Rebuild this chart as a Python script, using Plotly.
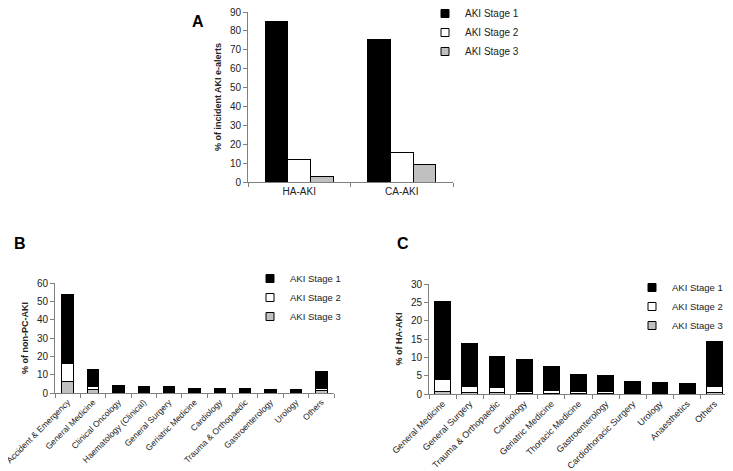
import plotly.graph_objects as go

stages = ["AKI Stage 1", "AKI Stage 2", "AKI Stage 3"]
colors = ["#000000", "#ffffff", "#c0c0c0"]

# Panel A
a_cats = ["HA-AKI", "CA-AKI"]
a_s1 = [85.0, 75.3]
a_s2 = [11.8, 15.4]
a_s3 = [3.0, 9.3]

# Panel B
b_cats = ["Accident & Emergency", "General Medicine", "Clinical Oncology", "Haematology (Clinical)",
          "General Surgery", "Geriatric Medicine", "Cardiology", "Trauma & Orthopaedic",
          "Gastroenterology", "Urology", "Others"]
b_s3 = [6.3, 1.8, 0.3, 0.2, 0.3, 0.2, 0.1, 0.1, 0.1, 0.1, 1.3]
b_s2 = [9.7, 1.7, 0.4, 0.3, 0.4, 0.3, 0.3, 0.2, 0.2, 0.2, 0.9]
b_s1 = [37.5, 9.5, 3.3, 3.3, 2.9, 2.2, 2.2, 1.9, 1.5, 1.4, 9.3]

# Panel C
c_cats = ["General Medicine", "General Surgery", "Trauma & Orthopaedic", "Cardiology",
          "Geriatric Medicine", "Thoracic Medicine", "Gastroenterology", "Cardiothoracic Surgery",
          "Urology", "Anaesthetics", "Others"]
c_s3 = [0.8, 0.3, 0.3, 0.2, 0.2, 0.2, 0.2, 0.1, 0.1, 0.1, 0.5]
c_s2 = [3.1, 1.7, 1.4, 0.6, 0.7, 0.4, 0.4, 0.2, 0.2, 0.3, 1.5]
c_s1 = [21.3, 11.7, 8.5, 8.7, 6.7, 4.7, 4.4, 3.2, 2.9, 2.5, 12.4]

W, H = 725, 463
OFF = 8  # page body margin
def fx(px): return (px - OFF) / W
def fy(py): return 1 - (py - OFF) / H

FONT = "Liberation Sans, Arial, sans-serif"
fig = go.Figure()
LINE = dict(color="#000", width=1)

# A: grouped (distinct offset groups)
for name, vals, col in zip(stages, [a_s1, a_s2, a_s3], colors):
    fig.add_trace(go.Bar(x=a_cats, y=vals, name=name, marker=dict(color=col, line=LINE),
                         xaxis="x", yaxis="y", showlegend=False, offsetgroup="a_" + name))
# B: stacked (stage 3 bottom)
for name, vals, col in zip(stages[::-1], [b_s3, b_s2, b_s1], colors[::-1]):
    fig.add_trace(go.Bar(x=b_cats, y=vals, name=name, marker=dict(color=col, line=LINE),
                         xaxis="x2", yaxis="y2", showlegend=False, offsetgroup="b", width=0.45))
# C: stacked
for name, vals, col in zip(stages[::-1], [c_s3, c_s2, c_s1], colors[::-1]):
    fig.add_trace(go.Bar(x=c_cats, y=vals, name=name, marker=dict(color=col, line=LINE),
                         xaxis="x3", yaxis="y3", showlegend=False, offsetgroup="c", width=0.58))

# legend entries with small square swatches
for leg, xa, ya in [("legend", "x", "y"), ("legend2", "x2", "y2"), ("legend3", "x3", "y3")]:
    for name, col in zip(stages, colors):
        fig.add_trace(go.Scatter(x=[None], y=[None], mode="markers", name=name, legend=leg,
                                 xaxis=xa, yaxis=ya,
                                 marker=dict(symbol="square", size=8, color=col, line=LINE)))

axcol = "#808080"
def xax(dom, anchor, angle=0, fs=10):
    return dict(domain=dom, anchor=anchor, showline=True, linecolor=axcol, linewidth=1, automargin=False,
                ticks="outside", tickcolor=axcol, ticklen=4, tickson="boundaries",
                tickangle=angle, tickfont=dict(size=fs, color="#222"), showgrid=False)
def yax(dom, anchor, rng, dt, title):
    return dict(domain=dom, anchor=anchor, range=rng, dtick=dt, showline=True, linecolor=axcol,
                linewidth=1, ticks="outside", tickcolor=axcol, ticklen=4, showgrid=False, zeroline=False,
                automargin=False, ticklabeloverflow="allow", tickfont=dict(size=10, color="#222"),
                title=dict(text="<b>" + title + "</b>", font=dict(size=9, color="#222"), standoff=6))

fig.update_layout(
    width=W, height=H, margin=dict(l=0, r=0, t=0, b=0, autoexpand=False),
    paper_bgcolor="white", plot_bgcolor="white",
    font=dict(family=FONT, size=10, color="#222"),
    barmode="stack", bargap=0.34, bargroupgap=0,
    xaxis=xax([fx(248), fx(453)], "y"),
    yaxis=yax([fy(182), fy(12)], "x", [0, 90], 10, "% of incident AKI e-alerts"),
    xaxis2=xax([fx(55), fx(334)], "y2", -45, 8.5),
    yaxis2=yax([fy(393), fy(283)], "x2", [0, 60], 10, "% of non-PC-AKI"),
    xaxis3=xax([fx(429), fx(728)], "y3", -45, 9),
    yaxis3=yax([fy(394), fy(284)], "x3", [0, 30], 5, "% of HA-AKI"),
    legend=dict(x=fx(425), y=fy(-1), xanchor="left", yanchor="top", font=dict(size=10),
                traceorder="normal", bgcolor="rgba(0,0,0,0)"),
    legend2=dict(x=fx(250), y=fy(264), xanchor="left", yanchor="top", font=dict(size=9.5),
                 traceorder="normal", bgcolor="rgba(0,0,0,0)"),
    legend3=dict(x=fx(632), y=fy(273), xanchor="left", yanchor="top", font=dict(size=9.5),
                 traceorder="normal", bgcolor="rgba(0,0,0,0)"),
    annotations=[
        dict(text="<b>A</b>", x=fx(190), y=fy(11), xref="paper", yref="paper", showarrow=False,
             font=dict(size=16, color="#000")),
        dict(text="<b>B</b>", x=fx(12), y=fy(243), xref="paper", yref="paper", showarrow=False,
             font=dict(size=16, color="#000")),
        dict(text="<b>C</b>", x=fx(403), y=fy(243), xref="paper", yref="paper", showarrow=False,
             font=dict(size=16, color="#000")),
    ],
)

fig.write_html("out.html")
